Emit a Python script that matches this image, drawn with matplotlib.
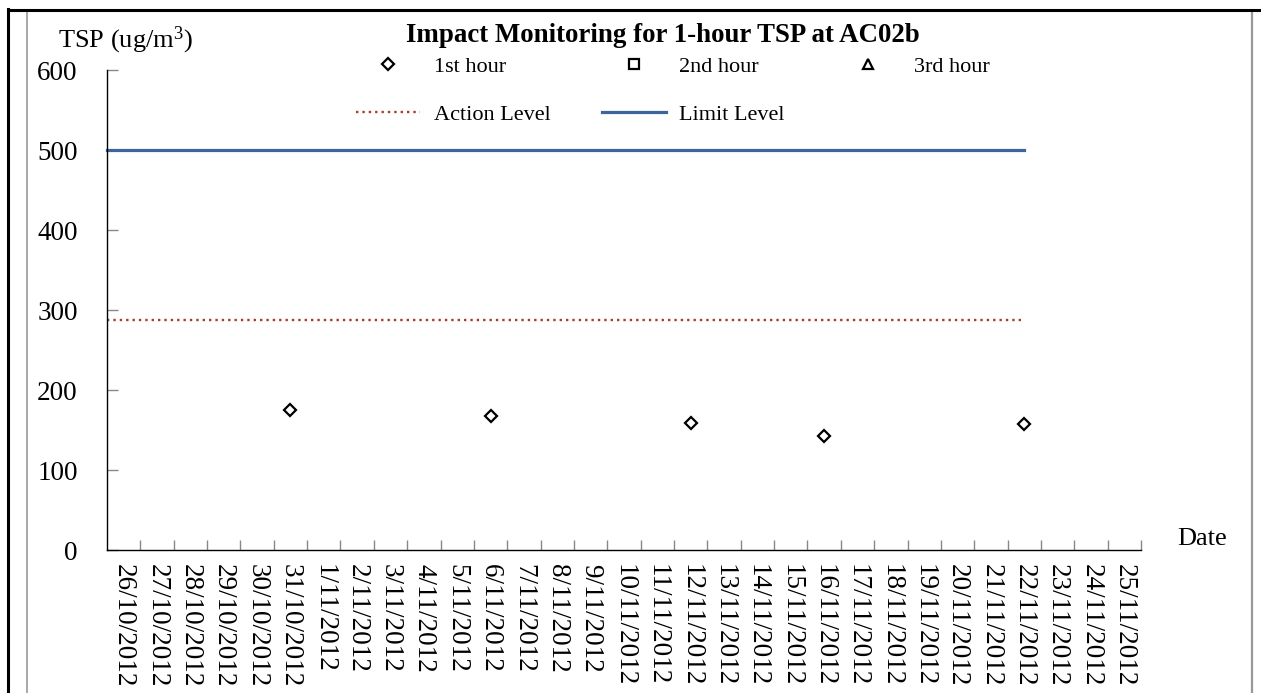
import matplotlib
matplotlib.use('Agg')
import matplotlib.pyplot as plt
from matplotlib.lines import Line2D

plt.rcParams['font.family'] = ['Liberation Serif', 'DejaVu Serif']
plt.rcParams['mathtext.fontset'] = 'custom'
plt.rcParams['mathtext.rm'] = 'Liberation Serif'

# %%
# monitoring dates on the category axis
dates = ['26/10/2012', '27/10/2012', '28/10/2012', '29/10/2012', '30/10/2012',
         '31/10/2012', '1/11/2012', '2/11/2012', '3/11/2012', '4/11/2012',
         '5/11/2012', '6/11/2012', '7/11/2012', '8/11/2012', '9/11/2012',
         '10/11/2012', '11/11/2012', '12/11/2012', '13/11/2012', '14/11/2012',
         '15/11/2012', '16/11/2012', '17/11/2012', '18/11/2012', '19/11/2012',
         '20/11/2012', '21/11/2012', '22/11/2012', '23/11/2012', '24/11/2012',
         '25/11/2012']

# 1-hour TSP results (ug/m3)
dates_1st = ['31/10/2012', '6/11/2012', '12/11/2012', '16/11/2012', '22/11/2012']
tsp_1st = [175, 167, 159, 142, 158]
dates_2nd = []
tsp_2nd = []
dates_3rd = []
tsp_3rd = []

action_level = 288
limit_level = 500
level_end = '22/11/2012'

yticks = [0, 100, 200, 300, 400, 500, 600]

# %%
W, H = 1261, 693
fig = plt.figure(figsize=(W / 100, H / 100), dpi=100)
ax = fig.add_axes([107 / W, 1 - 550 / H, (1141 - 107) / W, (550 - 70) / H])

pos = {d: i for i, d in enumerate(dates)}
x0 = -0.5

# action / limit lines
ax.plot([x0, pos[level_end]], [action_level, action_level], color='#A83A32',
        linewidth=1.7, linestyle=(0, (1, 1.7)), dash_capstyle='butt',
        label='Action Level', clip_on=False)
ax.plot([x0, pos[level_end]], [limit_level, limit_level], color='#3C659C',
        linewidth=2.3, label='Limit Level', clip_on=False)

# hourly results
h1, = ax.plot([pos[d] for d in dates_1st], tsp_1st, linestyle='none', marker='D',
              markersize=6, markerfacecolor='white', markeredgecolor='black',
              markeredgewidth=1.6, label='1st hour', clip_on=False)
h2, = ax.plot([pos[d] for d in dates_2nd], tsp_2nd, linestyle='none', marker='s',
              markersize=7, markerfacecolor='white', markeredgecolor='black',
              markeredgewidth=1.6, label='2nd hour')
h3, = ax.plot([pos[d] for d in dates_3rd], tsp_3rd, linestyle='none', marker='^',
              markersize=7, markerfacecolor='white', markeredgecolor='black',
              markeredgewidth=1.6, label='3rd hour')

ax.set_xlim(x0, len(dates) - 0.5)
ax.set_ylim(0, 600)

# axis styling
for side in ['top', 'right']:
    ax.spines[side].set_visible(False)
for side in ['left', 'bottom']:
    ax.spines[side].set_color('black')
    ax.spines[side].set_linewidth(1.0)

ax.set_yticks(yticks)
ax.set_yticklabels([str(v) for v in yticks], fontsize=19.5)
ax.tick_params(axis='y', direction='in', length=8, width=1, color='#888888', pad=21)

ax.set_xticks(range(len(dates)))
ax.set_xticklabels(dates, rotation=-90, fontsize=19.5, va='top', ha='center')
ax.tick_params(axis='x', which='major', length=0, pad=10)
ax.set_xticks([i + 0.5 for i in range(len(dates))], minor=True)
ax.tick_params(axis='x', which='minor', direction='in', length=7, width=1, color='#888888')

# titles and labels
fig.text(663 / W, 1 - 36 / H, 'Impact Monitoring for 1-hour TSP at AC02b',
         fontsize=19.4, fontweight='bold', ha='center', va='center')
fig.text(58 / W, 1 - 40 / H, r'TSP (ug/m$\mathregular{^3}$)', fontsize=19,
         ha='left', va='center')
fig.text(1177 / W, 1 - 539 / H, 'Date', fontsize=19, ha='left', va='center')

# legend: markers on the first row, guideline levels on the second
handles = [h1, ax.lines[0], h2, ax.lines[1], h3]
labels = ['1st hour', 'Action Level', '2nd hour', 'Limit Level', '3rd hour']
leg = fig.legend(handles, labels, ncol=3, loc='upper left',
                 bbox_to_anchor=(356 / W, 1 - 56 / H), frameon=False,
                 fontsize=16, handlelength=2.9, handletextpad=0.6,
                 columnspacing=2.3, labelspacing=1.25, borderpad=0,
                 borderaxespad=0)

# cell borders around the chart
fig.add_artist(Line2D([27 / W, 27 / W], [0, 1 - 11 / H], color='#999999', linewidth=1.2))
fig.add_artist(Line2D([1252 / W, 1252 / W], [0, 1 - 11 / H], color='#999999', linewidth=1.6))
fig.add_artist(Line2D([8 / W, 8 / W], [0, 1 - 9 / H], color='black', linewidth=2.2))
fig.add_artist(Line2D([8 / W, 1], [1 - 10 / H, 1 - 10 / H], color='black', linewidth=2.2))

plt.savefig('out.png', dpi=100)
